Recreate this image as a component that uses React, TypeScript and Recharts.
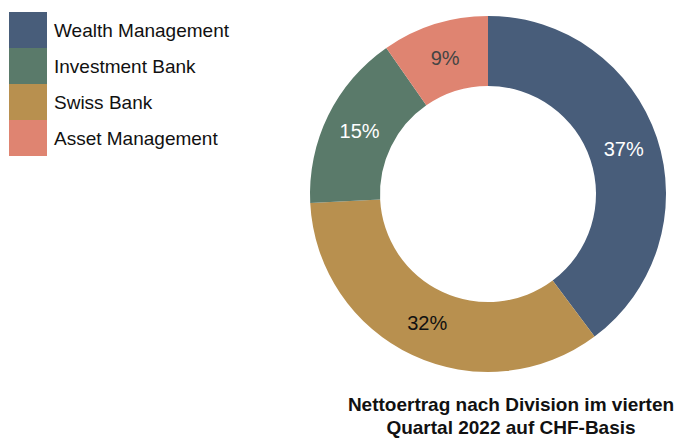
import { PieChart, Pie, Cell } from "recharts";

const divisions = ["Wealth Management", "Swiss Bank", "Investment Bank", "Asset Management"];
const shares = [37, 32, 15, 9];
const sliceColors = ["#485d7a", "#b8904f", "#5a7a6a", "#df8471"];
const labelColors = ["#ffffff", "#111111", "#ffffff", "#444444"];

const legendNames = ["Wealth Management", "Investment Bank", "Swiss Bank", "Asset Management"];
const legendColors = ["#485d7a", "#5a7a6a", "#b8904f", "#df8471"];

const titleLines = ["Nettoertrag nach Division im vierten", "Quartal 2022 auf CHF-Basis"];

const FONT = "'Liberation Sans', Arial, Helvetica, sans-serif";

const chartData = divisions.map((name, i) => ({ name, value: shares[i] }));

const RADIAN = Math.PI / 180;

function renderLabel(props: any) {
  const { cx, cy, midAngle, innerRadius, outerRadius, index } = props;
  const r = (innerRadius + outerRadius) / 2;
  const x = cx + r * Math.cos(-midAngle * RADIAN);
  const y = cy + r * Math.sin(-midAngle * RADIAN);
  return (
    <text
      x={x}
      y={y}
      fill={labelColors[index]}
      textAnchor="middle"
      dominantBaseline="central"
      fontSize={20}
      fontFamily={FONT}
    >
      {`${shares[index]}%`}
    </text>
  );
}

export default function App() {
  return (
    <div style={{ position: "absolute", left: 0, top: 0, width: 682, height: 438, background: "#fff" }}>
      <PieChart width={682} height={438} margin={{ top: 0, right: 0, bottom: 0, left: 0 }}>
        <Pie
          data={chartData}
          dataKey="value"
          nameKey="name"
          cx={488}
          cy={194}
          innerRadius={108}
          outerRadius={178}
          startAngle={90}
          endAngle={-270}
          stroke="none"
          label={renderLabel}
          labelLine={false}
          isAnimationActive={false}
        >
          {chartData.map((d, i) => (
            <Cell key={d.name} fill={sliceColors[i]} />
          ))}
        </Pie>
      </PieChart>
      {/* legend */}
      <div style={{ position: "absolute", left: 9, top: 12, fontFamily: FONT }}>
        {legendNames.map((name, i) => (
          <div key={name} style={{ display: "flex", alignItems: "center", height: 36 }}>
            <div style={{ width: 38, height: 36, background: legendColors[i] }} />
            <span style={{ marginLeft: 7, fontSize: 19, color: "#111", paddingTop: 2 }}>{name}</span>
          </div>
        ))}
      </div>
      <div
        style={{
          position: "absolute",
          left: 330,
          top: 393,
          width: 362,
          textAlign: "center",
          fontFamily: FONT,
          fontWeight: 700,
          fontSize: 19,
          lineHeight: "23px",
          color: "#111",
        }}
      >
        {titleLines.map((t) => (
          <div key={t}>{t}</div>
        ))}
      </div>
    </div>
  );
}
